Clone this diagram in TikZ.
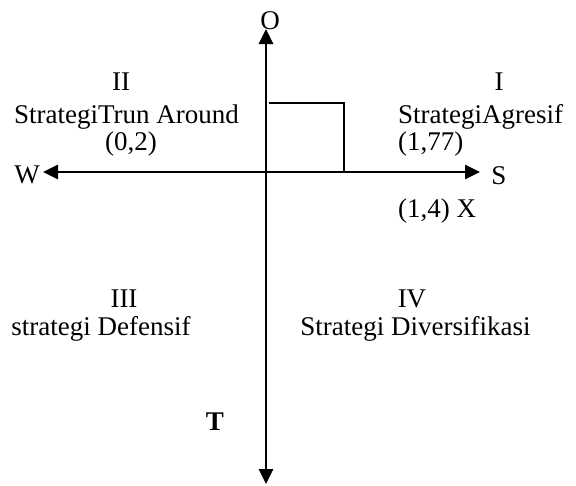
\documentclass[tikz,border=0pt]{standalone}
\usepackage{fontspec}
\setmainfont{Liberation Serif}
\usetikzlibrary{arrows.meta}
\begin{document}
\begin{tikzpicture}[x=1pt,y=-1pt,
  axis/.style={line width=2.6pt,-{Triangle[length=15pt,width=14pt]}},
  lbl/.style={font=\fontsize{27}{32}\selectfont,inner sep=0pt,anchor=base},
  lblw/.style={lbl,anchor=base west},
  box/.style={line width=2pt}]
\useasboundingbox (0,0) rectangle (576,485);
\coordinate (c) at (266,172);
\coordinate (top) at (266,29);
\coordinate (bot) at (266,484);
\coordinate (left) at (43,172);
\coordinate (right) at (480,172);
\coordinate (r1) at (269,103);
\coordinate (r2) at (344,103);
\coordinate (r3) at (344,172);
\draw[axis] (c) -- (top);
\draw[axis] (c) -- (bot);
\draw[axis] (c) -- (left);
\draw[axis] (c) -- (right);
\draw[box] (r1) -- (r2) -- (r3);
\node[lbl] (o) at (270,29) {O};
\node[lbl] (w) at (27,183) {W};
\node[lbl] (s) at (499,184) {S};
\node[lblw] (x) at (398,217) {(1,4) X};
\node[lbl,font=\fontsize{27}{32}\selectfont\bfseries] (t) at (215,430) {T};
\node[lbl] (q2) at (121,90) {II};
\node[lbl] (q2a) at (126.5,123) {StrategiTrun Around};
\node[lbl] (q2b) at (131,150) {(0,2)};
\node[lbl] (q1) at (499,90) {I};
\node[lblw] (q1a) at (398,123) {StrategiAgresif};
\node[lblw] (q1b) at (398,150) {(1,77)};
\node[lbl] (q3) at (124,307) {III};
\node[lbl] (q3a) at (101,335) {strategi Defensif};
\node[lbl] (q4) at (412,307) {IV};
\node[lbl] (q4a) at (415.5,335) {Strategi Diversifikasi};
\end{tikzpicture}
\end{document}
